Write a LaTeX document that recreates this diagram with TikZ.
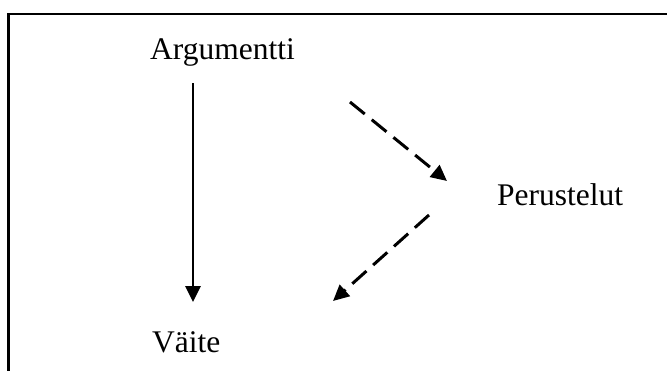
\documentclass[tikz,border=0pt]{standalone}
\usepackage{fontspec}
\setmainfont{Liberation Serif}
\usetikzlibrary{arrows.meta, positioning}

\begin{document}
\begin{tikzpicture}[x=1pt, y=-1pt, >={Triangle[width=15pt,length=16pt]},
  txt/.style={font=\fontsize{31.5}{36}\selectfont, inner sep=0pt, anchor=base west},
  solidarrow/.style={line width=2.8pt, ->},
  dasharrow/.style={line width=3pt, dash pattern=on 19pt off 9pt, ->}]
  \useasboundingbox (0,0) rectangle (667,370);
  % Frame (top and left edge)
  \draw[line width=2.6pt] (8.5,372) -- (8.5,14) -- (670,14);
  % Labels
  \node[txt] (arg) at (150,59) {Argumentti};
  \node[txt] (perus) at (497,205) {Perustelut};
  \node[txt] (vaite) at (152,352) {Väite};
  % Arrow ends
  \coordinate (argtop) at (193,83);
  \coordinate (argend) at (193,302);
  \coordinate (pertop) at (350,102);
  \coordinate (perend) at (447,181);
  \coordinate (vaitop) at (429,215);
  \coordinate (vaiend) at (333,301);
  % Arrows
  \draw[solidarrow] (argtop) -- (argend);
  \draw[dasharrow] (pertop) -- (perend);
  \draw[dasharrow] (vaitop) -- (vaiend);
\end{tikzpicture}
\end{document}
